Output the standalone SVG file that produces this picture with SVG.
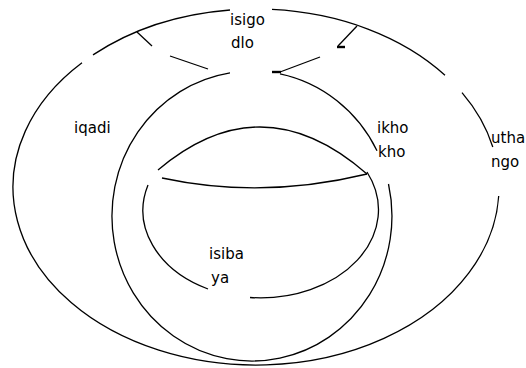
<svg xmlns="http://www.w3.org/2000/svg" width="526" height="368" viewBox="0 0 526 368">
<style>
.ln{fill:none;stroke:#000;stroke-width:1.3;stroke-linecap:butt}
.thk{fill:none;stroke:#000;stroke-width:2.4}
.t{font-family:"DejaVu Sans",sans-serif;font-size:15px;fill:#000}
</style>
<rect x="0" y="0" width="526" height="368" fill="#fff"/>
<g id="uthango">
<path class="ln" d="M93,54.9 A243,178 0 0 1 230,10"/>
<path class="ln" d="M272,9.4 A243,178 0 0 1 445,75.2"/>
<path class="ln" d="M462,92.7 A243,178 0 0 1 492.8,147"/>
<path class="ln" d="M498.7,196 A243,178 0 1 1 82,62.8"/>
<text class="t" x="491" y="143">utha</text>
<text class="t" x="491" y="167">ngo</text>
</g>
<g id="ikhokho">
<path class="ln" d="M280,73.9 A140,145 0 0 1 377,150.7"/>
<path class="ln" d="M388.5,184 A140,145 0 1 1 230,72.8"/>
<text class="t" x="377" y="133">ikho</text>
<text class="t" x="378" y="157">kho</text>
</g>
<g id="iqadi">
<text class="t" x="74" y="133">iqadi</text>
</g>
<g id="isigodlo">
<text class="t" x="230" y="25">isigo</text>
<text class="t" x="231" y="48">dlo</text>
</g>
<g id="isibaya">
<path class="ln" d="M158,170 Q262,82 367,174"/>
<path class="ln" d="M162,178 Q262,199.5 367,174"/>
<path class="ln" d="M367,172 A118,88 0 0 1 250,297.5"/>
<path class="ln" d="M208,289 A118,88 0 0 1 148,185"/>
<text class="t" x="209" y="259">isiba</text>
<text class="t" x="211" y="283">ya</text>
</g>
<g id="connectors">
<line class="ln" x1="137" y1="32" x2="152" y2="46"/>
<line class="ln" x1="170" y1="56" x2="208" y2="69"/>
<line class="ln" x1="357" y1="26" x2="338" y2="46"/>
<line class="thk" x1="337" y1="47" x2="345" y2="47"/>
<line class="ln" x1="280" y1="72" x2="320" y2="57"/>
<line class="thk" x1="272" y1="72" x2="281" y2="72"/>
</g>
</svg>
